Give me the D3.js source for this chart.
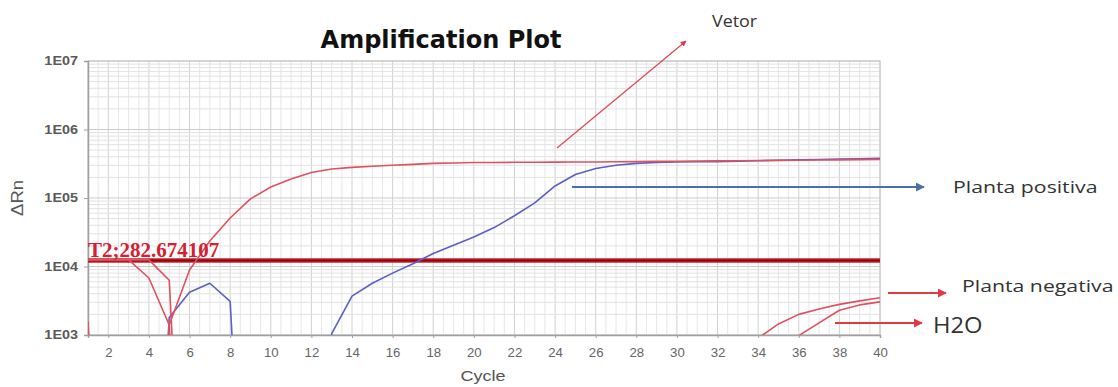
<!DOCTYPE html>
<html><head><meta charset="utf-8">
<script src="https://cdn.jsdelivr.net/npm/d3@7"></script>
<style>body{margin:0;background:#fff}svg{display:block}</style>
</head><body>
<svg id="c" width="1118" height="387"></svg>
<script>
const cycles = d3.range(1, 41);
const yTicks = [1e3, 1e4, 1e5, 1e6, 1e7];
const yTickLabels = ["1E03", "1E04", "1E05", "1E06", "1E07"];
const xTicks = d3.range(2, 41, 2);
const threshold = 12282.674107;
const thresholdLabel = "T2;282.674107";

const vetor = [1.6e3,0.01,0.01,0.01,1.4e3,8.9e3,2.36e4,5.1e4,9.7e4,1.45e5,1.9e5,2.35e5,2.65e5,2.8e5,2.9e5,3.0e5,3.1e5,3.2e5,3.25e5,3.3e5,
  3.3e5,3.32e5,3.33e5,3.34e5,3.35e5,3.36e5,3.38e5,3.4e5,3.42e5,3.44e5,3.46e5,3.48e5,3.5e5,3.52e5,3.54e5,3.56e5,3.58e5,3.6e5,3.63e5,3.66e5];
const plantaPositiva = [0.01,0.01,0.01,0.01,1.8e3,4.2e3,5.7e3,3.1e3,0.01,0.01,0.01,0.01,1.05e3,3.7e3,5.7e3,8e3,1.1e4,1.55e4,2.05e4,2.7e4,
  3.7e4,5.5e4,8.5e4,1.5e5,2.2e5,2.7e5,3.0e5,3.2e5,3.3e5,3.35e5,3.38e5,3.4e5,3.45e5,3.5e5,3.55e5,3.6e5,3.65e5,3.7e5,3.75e5,3.8e5];
const plantaNegativa = [1.25e4,1.25e4,1.25e4,6.8e3,1.4e3,0.01,0.01,0.01,0.01,0.01,0.01,0.01,0.01,0.01,0.01,0.01,0.01,0.01,0.01,0.01,
  0.01,0.01,0.01,0.01,0.01,0.01,0.01,0.01,0.01,0.01,0.01,0.01,0.01,0.9e3,1.45e3,2.0e3,2.4e3,2.8e3,3.15e3,3.5e3];
const h2o = [1.25e4,1.25e4,1.25e4,1.25e4,6.3e3,0.01,0.01,0.01,0.01,0.01,0.01,0.01,0.01,0.01,0.01,0.01,0.01,0.01,0.01,0.01,
  0.01,0.01,0.01,0.01,0.01,0.01,0.01,0.01,0.01,0.01,0.01,0.01,0.01,0.01,0.01,0.98e3,1.5e3,2.3e3,2.75e3,3.05e3];

const svg = d3.select("#c");
const L = 88, R = 880, T = 61, B = 335;
const x = d3.scaleLinear().domain([1, 40]).range([L, R]);
const y = d3.scaleLog().domain([1e3, 1e7]).range([B, T]);

svg.append("defs").append("clipPath").attr("id","clip")
  .append("rect").attr("x",L).attr("y",T).attr("width",R-L).attr("height",B-T);

// grid
const g = svg.append("g");
const vMinor = d3.range(1, 40.01, 0.5);
g.selectAll(".vg").data(vMinor).join("line")
  .attr("x1", d=>x(d)).attr("x2", d=>x(d)).attr("y1", T).attr("y2", B)
  .attr("stroke", d => d % 2 === 0 ? "#d0d0d0" : "#e6e6e6").attr("stroke-width", 1);
const hMinor = [];
[1e3,1e4,1e5,1e6].forEach(dec => { for (let k = 2; k <= 9; k++) hMinor.push(dec*k); });
g.selectAll(".hg").data(hMinor).join("line")
  .attr("x1", L).attr("x2", R).attr("y1", d=>y(d)).attr("y2", d=>y(d))
  .attr("stroke", "#e2e2e2").attr("stroke-width", 1);
g.selectAll(".hM").data(yTicks).join("line")
  .attr("x1", L).attr("x2", R).attr("y1", d=>y(d)).attr("y2", d=>y(d))
  .attr("stroke", "#cccccc").attr("stroke-width", 1);

// frame
svg.append("rect").attr("x", L).attr("y", T).attr("width", R-L).attr("height", B-T)
  .attr("fill","none").attr("stroke","#c4c4c4");

// axes
const yAxis = d3.axisLeft(y).tickValues(yTicks).tickFormat((d,i)=>yTickLabels[i]).tickSize(4).tickPadding(6);
const ya = svg.append("g").attr("transform", `translate(${L},0)`).call(yAxis);
const xAxis = d3.axisBottom(x).tickValues(xTicks).tickFormat(d3.format("d")).tickSize(3).tickPadding(10);
const xa = svg.append("g").attr("transform", `translate(0,${B})`).call(xAxis);
[ya, xa].forEach(a => {
  a.select(".domain").attr("stroke", "#a0a0a0").attr("stroke-width", 1.5);
  a.selectAll(".tick line").attr("stroke", "#a0a0a0");
  a.selectAll("text").attr("fill", "#555").attr("font-family", "Liberation Sans, Arial, sans-serif")
    .attr("font-size", 12).attr("font-weight", "bold");
});
ya.selectAll(".tick text").attr("transform", "scale(1.2,1)").attr("x", -10/1.2).attr("fill", "#5a5a5a");
xa.selectAll(".tick text").attr("transform", "scale(1.1,1)").attr("font-weight", "normal").attr("fill", "#666");

// threshold
svg.append("line").attr("x1", L).attr("x2", R).attr("y1", y(threshold)).attr("y2", y(threshold))
  .attr("stroke", "#d0202c").attr("stroke-width", 4.5);
svg.append("line").attr("x1", L).attr("x2", R).attr("y1", y(threshold)).attr("y2", y(threshold))
  .attr("stroke", "#8a0a10").attr("stroke-width", 2);

// curves
const line = d3.line().x((d,i)=>x(cycles[i])).y(d=>y(d));
const curves = svg.append("g").attr("clip-path","url(#clip)");
const series = [
  {v: plantaPositiva, c: "#5a60c4"},
  {v: plantaNegativa, c: "#e0505e"},
  {v: h2o, c: "#e0505e"},
  {v: vetor, c: "#e2505e"}
];
series.forEach(s => curves.append("path").attr("d", line(s.v)).attr("fill","none")
  .attr("stroke", s.c).attr("stroke-width", 1.6).attr("stroke-linejoin","round"));

// threshold label
svg.append("text").attr("x", L).attr("y", y(threshold) - 3)
  .attr("font-family", "Liberation Serif, Times New Roman, serif").attr("font-weight","bold")
  .attr("font-size", 21).attr("fill", "#d42030").text(thresholdLabel);

// title & axis titles
svg.append("text").attr("x", 441).attr("y", 48).attr("text-anchor","middle")
  .attr("font-family","DejaVu Sans, Verdana, sans-serif").attr("font-weight","bold")
  .attr("font-size", 24).attr("fill","#111").text("Amplification Plot");
svg.append("text").attr("transform", "translate(483,381) scale(1.2,1)").attr("text-anchor","middle")
  .attr("font-family","Liberation Sans, Arial, sans-serif").attr("font-size", 15).attr("fill","#555").text("Cycle");
svg.append("text").attr("transform", "translate(23,198) rotate(-90) scale(1.15,1)").attr("text-anchor","middle")
  .attr("font-family","Liberation Sans, Arial, sans-serif").attr("font-size", 16).attr("fill","#555").text("ΔRn");

// annotations
const defs = svg.select("defs");
function marker(id, color){
  defs.append("marker").attr("id", id).attr("viewBox","0 0 10 10").attr("refX",9).attr("refY",5)
    .attr("markerWidth",4.5).attr("markerHeight",4.5).attr("orient","auto")
    .append("path").attr("d","M0,0L10,5L0,10z").attr("fill", color);
}
marker("mr", "#e03844"); marker("mb", "#4a70a8");
const arrows = [
  {x1:557, y1:148, x2:686, y2:41, c:"#e04a56", m:"mr", w:1.3},
  {x1:572, y1:187, x2:924, y2:187, c:"#4a70a8", m:"mb", w:2},
  {x1:888, y1:293, x2:946, y2:293, c:"#e03844", m:"mr", w:2},
  {x1:835, y1:323, x2:922, y2:323, c:"#e03844", m:"mr", w:2}
];
arrows.forEach(a => svg.append("line").attr("x1",a.x1).attr("y1",a.y1).attr("x2",a.x2).attr("y2",a.y2)
  .attr("stroke",a.c).attr("stroke-width",a.w).attr("marker-end",`url(#${a.m})`));
const notes = [
  {t:"Vetor", x:712, y:27, s:16, k:1.12},
  {t:"Planta positiva", x:953, y:193, s:17, k:1.25},
  {t:"Planta negativa", x:962, y:292, s:17, k:1.25},
  {t:"H2O", x:933, y:333, s:22, k:1.08}
];
notes.forEach(n => svg.append("text").attr("transform", `translate(${n.x},${n.y}) scale(${n.k},1)`)
  .attr("font-family","Open Sans, sans-serif").attr("font-size", n.s).attr("fill","#333").text(n.t));
</script>
</body></html>
